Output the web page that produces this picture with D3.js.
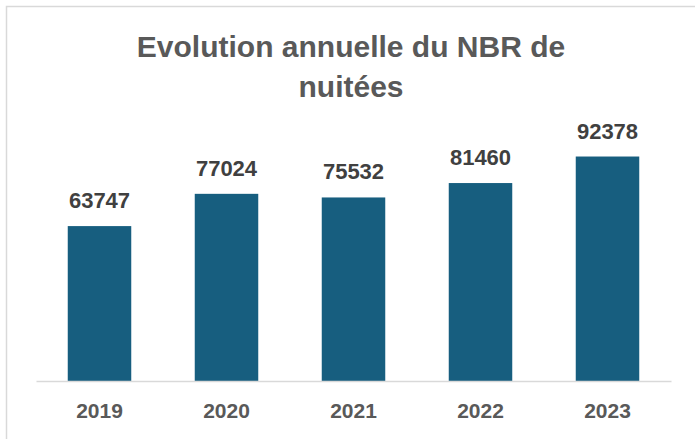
<!DOCTYPE html>
<html>
<head>
<meta charset="utf-8">
<script src="https://cdn.jsdelivr.net/npm/d3@7"></script>
<style>
  html, body { margin: 0; padding: 0; background: #fff; }
</style>
</head>
<body>
<div id="chart" style="width:695px;height:439px;"></div>
<script>
var years = ["2019", "2020", "2021", "2022", "2023"];
var nuitees = [63747, 77024, 75532, 81460, 92378];
var titleLines = ["Evolution annuelle du NBR de", "nuitées"];

var W = 695, H = 439;
var margin = { top: 138, right: 24, bottom: 58, left: 36 };

var svg = d3.select("#chart").append("svg")
    .attr("width", W)
    .attr("height", H);

// chart area border (only top/left visible in the crop)
svg.append("rect")
    .attr("x", 6.5).attr("y", 6.5)
    .attr("width", 720).attr("height", 460)
    .attr("fill", "#fff")
    .attr("stroke", "#d9d9d9")
    .attr("stroke-width", 1.5);

var font = '"Liberation Sans", Arial, Helvetica, sans-serif';

svg.append("g").selectAll("text")
    .data(titleLines)
    .enter().append("text")
    .attr("x", 351)
    .attr("y", function (d, i) { return 57 + i * 40; })
    .attr("text-anchor", "middle")
    .style("font", "bold 30px " + font)
    .style("fill", "#595959")
    .text(function (d) { return d; });

var x = d3.scaleBand()
    .domain(years)
    .range([margin.left, W - margin.right])
    .paddingInner(0.5)
    .paddingOuter(0.25);

var y = d3.scaleLinear()
    .domain([0, 100000])
    .range([H - margin.bottom, margin.top]);

var g = svg.append("g");

g.selectAll(".bar")
    .data(nuitees)
    .enter().append("rect")
    .attr("class", "bar")
    .attr("x", function (d, i) { return x(years[i]); })
    .attr("y", function (d) { return y(d); })
    .attr("width", x.bandwidth())
    .attr("height", function (d) { return y(0) - y(d); })
    .style("fill", "#175e7f");

// value labels
g.selectAll(".val")
    .data(nuitees)
    .enter().append("text")
    .attr("class", "val")
    .attr("x", function (d, i) { return x(years[i]) + x.bandwidth() / 2; })
    .attr("y", function (d) { return y(d) - 18; })
    .attr("text-anchor", "middle")
    .style("font", "bold 22px " + font)
    .style("fill", "#404040")
    .text(function (d) { return d; });

// x axis
var xAxis = svg.append("g")
    .attr("transform", "translate(0," + y(0) + ")")
    .call(d3.axisBottom(x).tickSize(0).tickPadding(22));

xAxis.select(".domain")
    .attr("stroke", "#d9d9d9")
    .attr("stroke-width", 1.5);

xAxis.selectAll("text")
    .attr("dy", "0.71em")
    .style("font", "bold 21px " + font)
    .style("fill", "#595959");
</script>
</body>
</html>
